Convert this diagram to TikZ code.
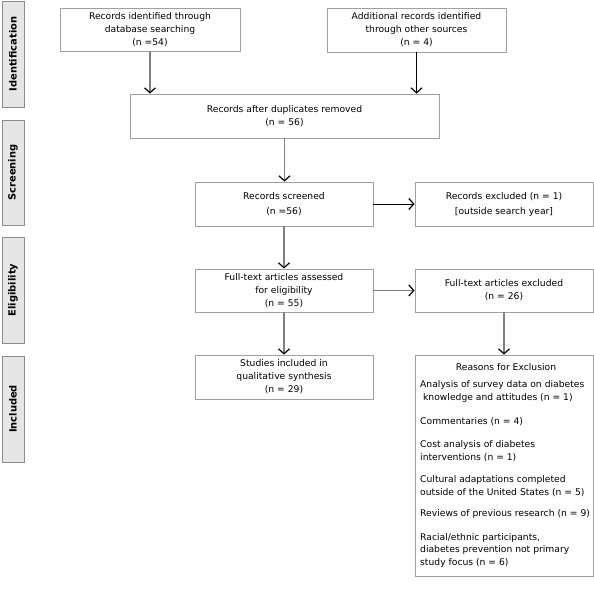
\documentclass[tikz,border=0pt]{standalone}
\usepackage{fontspec}
\setmainfont{DejaVu Sans}
\usetikzlibrary{arrows.meta}
\definecolor{boxgray}{HTML}{A0A0A0}
\definecolor{sidefill}{HTML}{E6E6E6}
\definecolor{sidedraw}{HTML}{8C8C8C}
\definecolor{linegray}{HTML}{808080}
\begin{document}
\begin{tikzpicture}[x=1pt,y=-1pt,
  box/.style={draw=boxgray, line width=0.8pt, inner sep=0pt, align=center,
    font=\fontsize{9.2}{13}\selectfont, minimum width=178pt, minimum height=44pt},
  side/.style={draw=sidedraw, fill=sidefill, line width=0.8pt, minimum width=22pt,
    minimum height=106pt, inner sep=0pt},
  sidetext/.style={rotate=90, inner sep=0pt, font=\fontsize{9.9}{11}\selectfont\bfseries},
  tip/.style={-{Straight Barb[length=5pt,width=11pt,line width=1.2pt,color=black]}},
  garrow/.style={draw=linegray, line width=1.9pt, tip},
  barrow/.style={draw=black, line width=1pt, tip},
  reason/.style={anchor=base west, inner sep=0pt, font=\fontsize{9.2}{12}\selectfont}]
\fill[white] (0,0) rectangle (594,595);
\useasboundingbox (0,0) rectangle (594,595);

% side labels
\node[side, minimum height=106pt] (s1) at (13,54) {};
\node[sidetext] (s1t) at (s1.center) {Identification};
\node[side, minimum height=105pt] (s2) at (13,172.5) {};
\node[sidetext] (s2t) at (s2.center) {Screening};
\node[side] (s3) at (13,290) {};
\node[sidetext] (s3t) at (s3.center) {Eligibility};
\node[side] (s4) at (13,409) {};
\node[sidetext] (s4t) at (s4.center) {Included};

% boxes
\node[box, minimum width=180pt, minimum height=43pt] (b1) at (150,29.5)
  {Records identified through\\database searching\\(n =54)};
\node[box, minimum width=179pt] (b2) at (416.5,30)
  {Additional records identified\\through other sources\\(n = 4)};
\node[box, minimum width=309pt] (b3) at (284.5,116)
  {Records after duplicates removed\\(n = 56)};
\node[box] (b4) at (284,204) {Records screened\\[2pt](n =56)};
\node[box] (b5) at (504,204) {Records excluded (n = 1)\\[2pt][outside search year]};
\node[box, minimum height=43pt] (b6) at (284,290.5)
  {Full-text articles assessed\\for eligibility\\(n = 55)};
\node[box, minimum height=43pt] (b7) at (504,290.5)
  {Full-text articles excluded\\(n = 26)};
\node[box] (b8) at (284,377)
  {Studies included in\\qualitative synthesis\\(n = 29)};
\node[box, minimum width=178pt, minimum height=221pt] (b9) at (504,465.5) {};

% reasons text
\node[anchor=base, inner sep=0pt, font=\fontsize{9.2}{12}\selectfont] (rt) at (506,370)
  {Reasons for Exclusion};
\foreach \yy/\tt [count=\i] in {
  387.6/{Analysis of survey data on diabetes},
  400/{\ knowledge and attitudes (n = 1)},
  424/{Commentaries (n = 4)},
  447.6/{Cost analysis of diabetes},
  460/{interventions (n = 1)},
  482.3/{Cultural adaptations completed},
  495/{outside of the United States (n = 5)},
  516.6/{Reviews of previous research (n = 9)},
  540.6/{Racial/ethnic participants,},
  552.6/{diabetes prevention not primary},
  565/{study focus (n = 6)}}
  \node[reason] (r\i) at (420,\yy) {\tt};

% arrows
\draw[garrow] (b1.south) -- (b1.south |- b3.north);
\draw[barrow] (b2.south) -- (b2.south |- b3.north);
\draw[garrow] (b3.south) -- (b3.south |- b4.north);
\draw[barrow] (b4.east) -- (b5.west);
\draw[garrow] (b4.south) -- (b6.north);
\draw[garrow] (b6.east) -- (b7.west);
\draw[garrow] (b6.south) -- (b8.north);
\draw[garrow] (b7.south) -- (b7.south |- b9.north);
\end{tikzpicture}
\end{document}
